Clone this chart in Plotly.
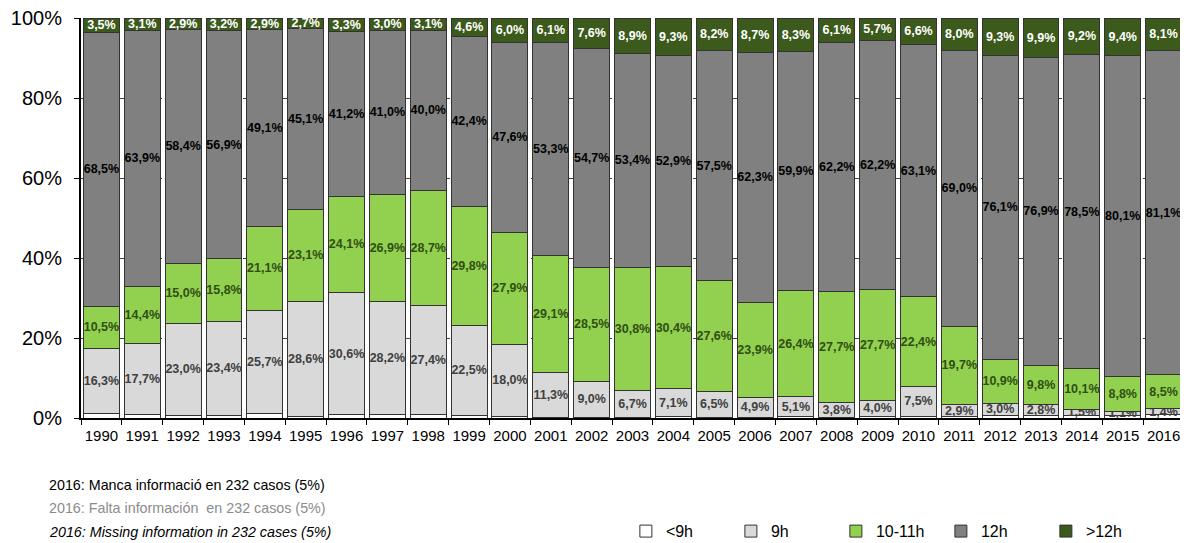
import plotly.graph_objects as go

years = [str(y) for y in range(1990, 2017)]

lt9h = [1.2, 0.9, 0.7, 0.7, 1.2, 0.5, 0.8, 0.9, 0.8, 0.7, 0.5, 0.2, 0.2, 0.2, 0.3,
        0.2, 0.2, 0.3, 0.2, 0.4, 0.4, 0.4, 0.7, 0.6, 0.7, 0.6, 0.9]
h9 = [16.3, 17.7, 23.0, 23.4, 25.7, 28.6, 30.6, 28.2, 27.4, 22.5, 18.0, 11.3, 9.0, 6.7, 7.1,
      6.5, 4.9, 5.1, 3.8, 4.0, 7.5, 2.9, 3.0, 2.8, 1.5, 1.1, 1.4]
h10_11 = [10.5, 14.4, 15.0, 15.8, 21.1, 23.1, 24.1, 26.9, 28.7, 29.8, 27.9, 29.1, 28.5, 30.8, 30.4,
          27.6, 23.9, 26.4, 27.7, 27.7, 22.4, 19.7, 10.9, 9.8, 10.1, 8.8, 8.5]
h12 = [68.5, 63.9, 58.4, 56.9, 49.1, 45.1, 41.2, 41.0, 40.0, 42.4, 47.6, 53.3, 54.7, 53.4, 52.9,
       57.5, 62.3, 59.9, 62.2, 62.2, 63.1, 69.0, 76.1, 76.9, 78.5, 80.1, 81.1]
gt12h = [3.5, 3.1, 2.9, 3.2, 2.9, 2.7, 3.3, 3.0, 3.1, 4.6, 6.0, 6.1, 7.6, 8.9, 9.3,
         8.2, 8.7, 8.3, 6.1, 5.7, 6.6, 8.0, 9.3, 9.9, 9.2, 9.4, 8.1]

series_names = ["<9h", "9h", "10-11h", "12h", ">12h"]
notes = [
    "2016: Manca informació en 232 casos (5%)",
    "2016: Falta información  en 232 casos (5%)",
    "2016: Missing information in 232 cases (5%)",
]

FONT = "Arial, 'Liberation Sans', sans-serif"

specs = [
    (series_names[0], lt9h, "#ffffff", None),
    (series_names[1], h9, "#d9d9d9", "#404040"),
    (series_names[2], h10_11, "#92d050", "#2f4f12"),
    (series_names[3], h12, "#808080", "#000000"),
    (series_names[4], gt12h, "#3b5a1b", "#ffffff"),
]

fig = go.Figure()
for name, vals, fill, tcol in specs:
    kw = {}
    if tcol is not None:
        kw = dict(
            texttemplate="%{y:.1f}%",
            textposition="inside",
            insidetextanchor="middle",
            textangle=0,
            textfont=dict(family=FONT, size=12.5, color=tcol, weight="bold"),
        )
    fig.add_trace(go.Bar(
        x=years, y=vals, name=name,
        marker=dict(color=fill, line=dict(color="#333333", width=1)),
        hoverinfo="skip",
        **kw,
    ))

annotations = []
note_y = [-0.1675, -0.225, -0.285]
note_col = ["#000000", "#8c8c8c", "#000000"]
note_style = ["normal", "normal", "italic"]
for t, yy, c, st in zip(notes, note_y, note_col, note_style):
    annotations.append(dict(
        text=t, xref="paper", yref="paper", x=-0.031, y=yy,
        xanchor="left", yanchor="middle", showarrow=False,
        font=dict(family=FONT, size=14.3, color=c, style=st),
    ))

# the page body adds an 8px offset, so the figure is 8px smaller on each axis
fig.update_layout(
    width=1180, height=535,
    margin=dict(l=73, r=4, t=10, b=125, autoexpand=False),
    barmode="stack",
    bargap=0.12,
    separators=",.",
    paper_bgcolor="white",
    plot_bgcolor="white",
    font=dict(family=FONT, color="#000000"),
    uniformtext=dict(mode="show", minsize=12.5),
    showlegend=True,
    legend=dict(
        orientation="h", traceorder="normal",
        x=0.494, xanchor="left", y=-0.283, yanchor="middle",
        font=dict(family=FONT, size=16, color="#000000"),
        entrywidth=60, entrywidthmode="pixels",
        bgcolor="rgba(0,0,0,0)",
    ),
    annotations=annotations,
    shapes=[dict(type="line", xref="paper", yref="paper", x0=1, x1=1, y0=0, y1=1,
                 line=dict(color="#555555", width=1))],
)
fig.update_yaxes(
    range=[0, 100], dtick=20, ticksuffix="%", automargin=False,
    ticklabeloverflow="allow",
    showgrid=True, gridcolor="#404040", griddash="dash", gridwidth=1,
    showline=True, linecolor="#000000", linewidth=2,
    ticks="outside", ticklen=5, tickcolor="#000000",
    tickfont=dict(family=FONT, size=20, color="#000000"),
    ticklabelstandoff=8, zeroline=False,
)
fig.update_xaxes(
    type="category", showgrid=False, automargin=False, tickangle=0,
    ticklabeloverflow="allow", ticklabelstandoff=3,
    showline=True, linecolor="#000000", linewidth=2,
    ticks="outside", tickson="boundaries", ticklen=5, tickcolor="#000000",
    tickfont=dict(family=FONT, size=15, color="#000000"),
)

fig.write_html("out.html")
